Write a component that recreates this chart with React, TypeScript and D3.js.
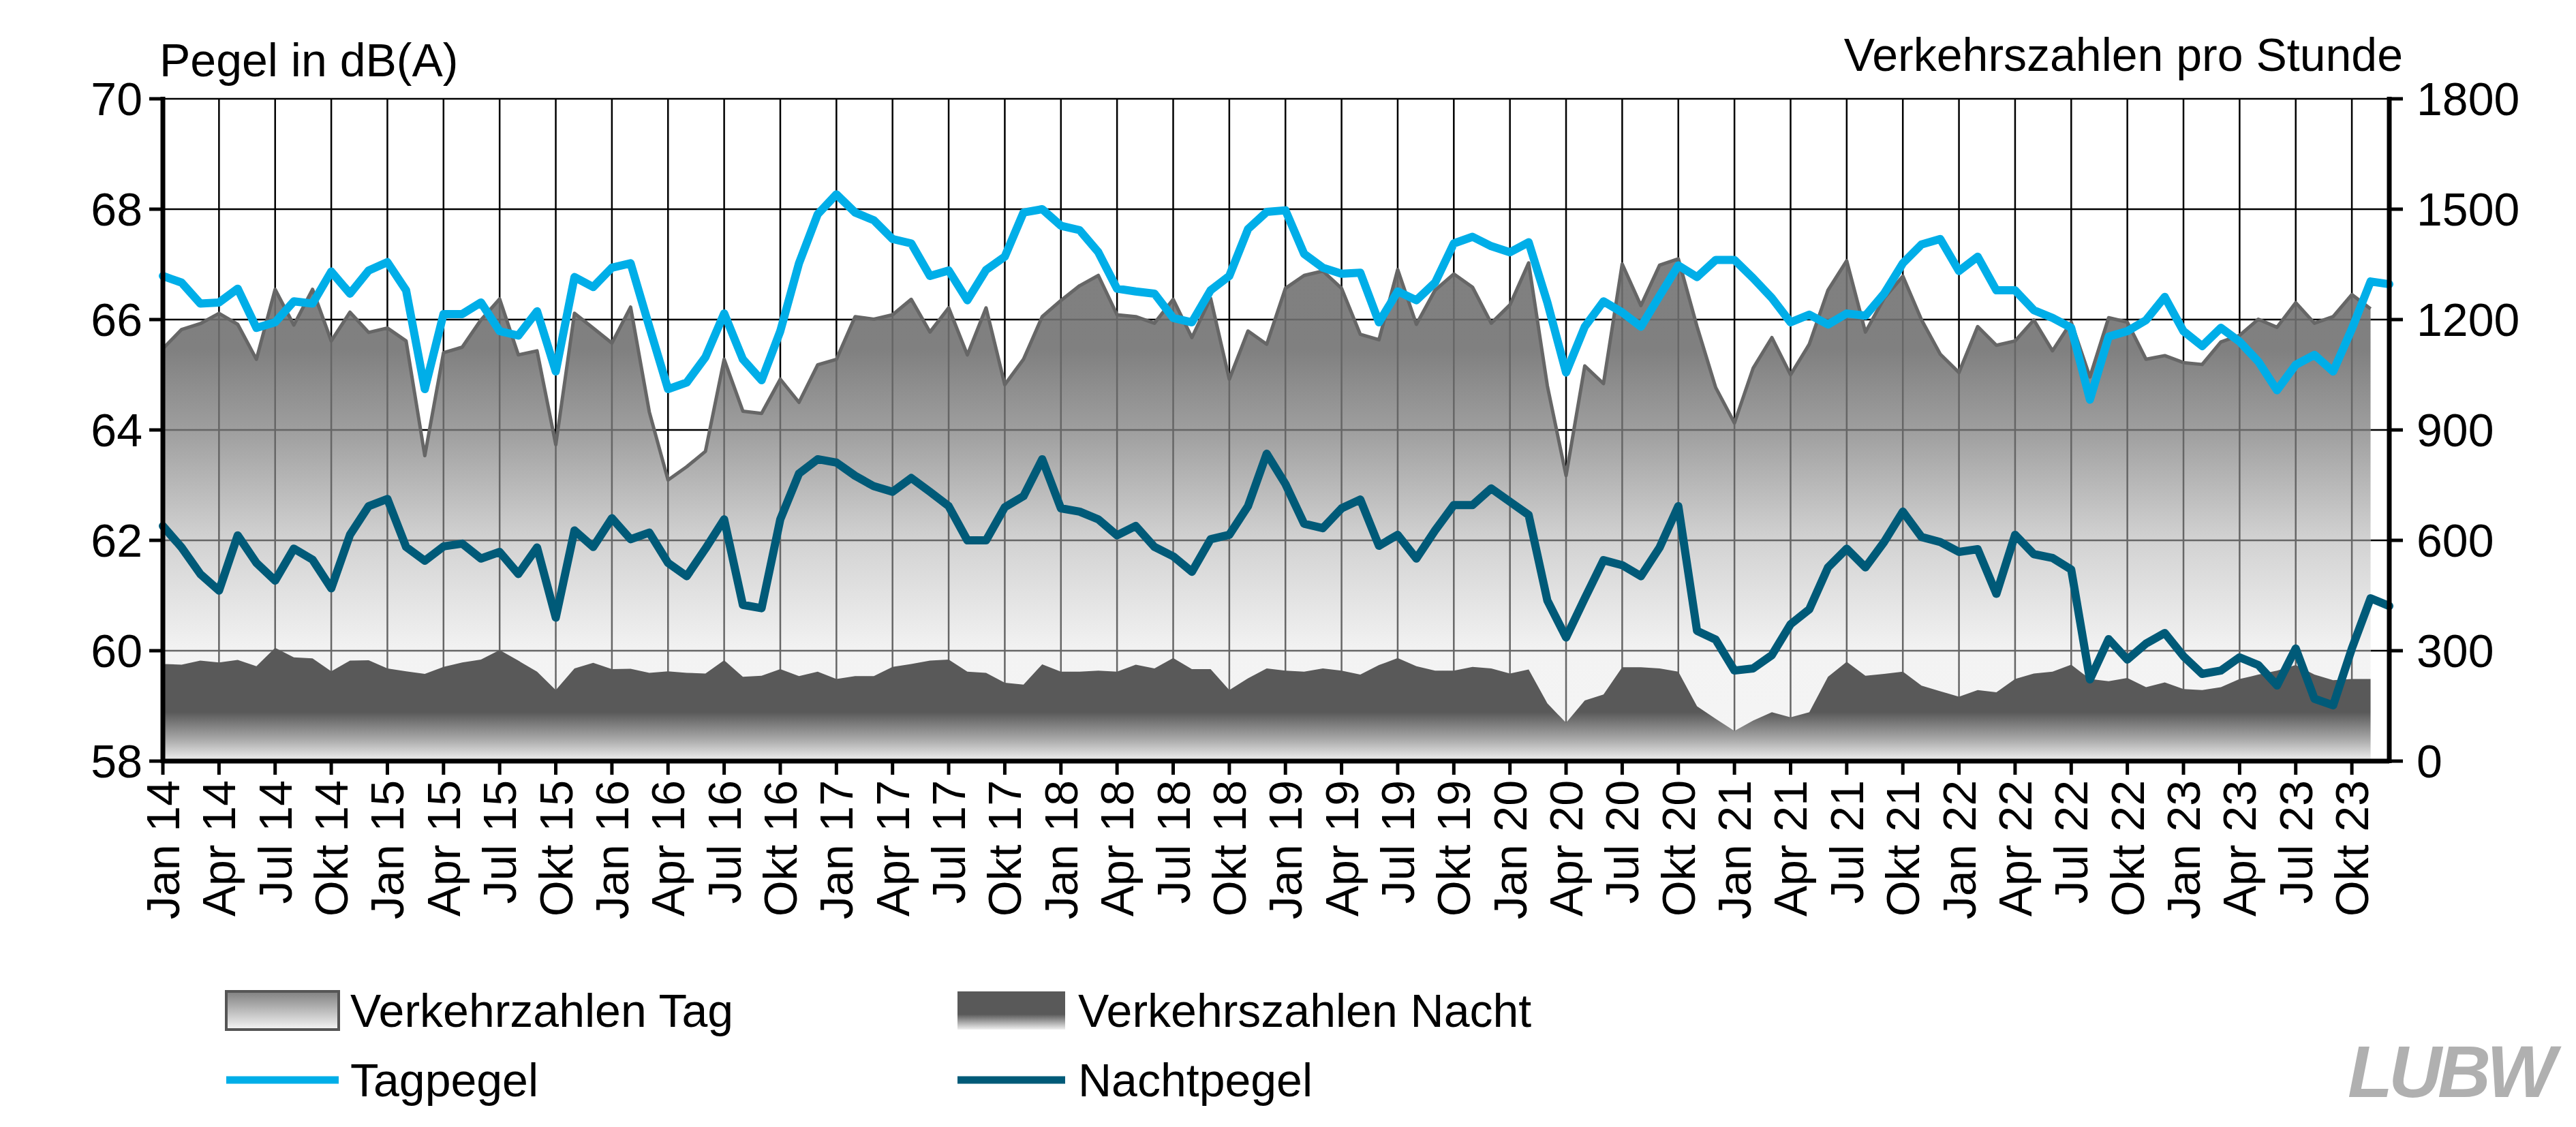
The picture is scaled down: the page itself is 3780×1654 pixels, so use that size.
import { useEffect } from 'react';
import * as d3 from 'd3';

// Monthly values, Jan 2014 onward
const tagPegel = [
  66.79, 66.67, 66.29, 66.31, 66.56, 65.85, 65.95, 66.33, 66.29, 66.87, 66.47, 66.89,
  67.04, 66.53, 64.74, 66.10, 66.10, 66.31, 65.79, 65.71, 66.15, 65.06, 66.77, 66.59,
  66.94, 67.02, 65.87, 64.74, 64.86, 65.32, 66.11, 65.28, 64.90, 65.79, 67.02, 67.91,
  68.27, 67.94, 67.80, 67.46, 67.38, 66.79, 66.89, 66.35, 66.90, 67.14, 67.94, 68.00,
  67.70, 67.62, 67.22, 66.56, 66.51, 66.47, 66.03, 65.95, 66.53, 66.79, 67.64, 67.95,
  67.98, 67.19, 66.94, 66.83, 66.85, 65.95, 66.51, 66.35, 66.67, 67.38, 67.50, 67.33,
  67.22, 67.40, 66.31, 65.04, 65.87, 66.33, 66.13, 65.87, 66.43, 66.98, 66.77, 67.08,
  67.08, 66.75, 66.39, 65.95, 66.09, 65.91, 66.11, 66.07, 66.47, 67.02, 67.36, 67.46,
  66.88, 67.14, 66.53, 66.53, 66.17, 66.03, 65.85, 64.55, 65.69, 65.79, 65.99, 66.41,
  65.79, 65.52, 65.85, 65.60, 65.24, 64.72, 65.18, 65.36, 65.06, 65.83, 66.69, 66.64,
];
const nachtPegel = [
  62.26, 61.87, 61.39, 61.09, 62.09, 61.59, 61.27, 61.85, 61.65, 61.13, 62.10, 62.62,
  62.75, 61.88, 61.63, 61.89, 61.94, 61.67, 61.79, 61.39, 61.87, 60.60, 62.18, 61.88,
  62.40, 62.02, 62.14, 61.59, 61.35, 61.85, 62.38, 60.83, 60.77, 62.38, 63.21, 63.47,
  63.41, 63.17, 62.98, 62.88, 63.13, 62.88, 62.62, 62.00, 62.00, 62.60, 62.80, 63.47,
  62.58, 62.52, 62.38, 62.09, 62.26, 61.88, 61.71, 61.43, 62.02, 62.10, 62.62, 63.57,
  63.02, 62.30, 62.22, 62.58, 62.74, 61.90, 62.10, 61.67, 62.18, 62.64, 62.64, 62.94,
  62.70, 62.46, 60.91, 60.24, 60.95, 61.64, 61.55, 61.35, 61.87, 62.62, 60.36, 60.20,
  59.64, 59.68, 59.92, 60.48, 60.75, 61.51, 61.85, 61.51, 61.97, 62.52, 62.06, 61.97,
  61.79, 61.84, 61.03, 62.10, 61.75, 61.68, 61.47, 59.48, 60.21, 59.84, 60.13, 60.32,
  59.90, 59.58, 59.64, 59.88, 59.74, 59.37, 60.04, 59.13, 59.01, 60.04, 60.95, 60.81,
];
const verkehrTag = [
  1121, 1173, 1189, 1217, 1187, 1092, 1282, 1185, 1282, 1142, 1220, 1165,
  1177, 1142, 830, 1110, 1125, 1199, 1256, 1104, 1115, 860, 1217, 1177,
  1136, 1234, 949, 764, 800, 842, 1092, 951, 945, 1038, 975, 1077,
  1092, 1208, 1201, 1213, 1255, 1166, 1232, 1104, 1232, 1023, 1092, 1208,
  1252, 1292, 1320, 1213, 1208, 1190, 1255, 1151, 1258, 1038, 1169, 1133,
  1285, 1320, 1332, 1285, 1160, 1145, 1336, 1187, 1280, 1324, 1288, 1190,
  1240, 1354, 1020, 776, 1074, 1026, 1351, 1238, 1348, 1365, 1181, 1015,
  919, 1068, 1151, 1050, 1133, 1280, 1360, 1166, 1258, 1318, 1199, 1106,
  1056, 1181, 1130, 1142, 1199, 1115, 1193, 1044, 1205, 1193, 1092, 1102,
  1083, 1078, 1139, 1157, 1201, 1179, 1246, 1190, 1208, 1268, 1229,
];
const verkehrNacht = [
  264, 262, 273, 268, 275, 258, 308, 282, 279, 244, 273, 274,
  252, 244, 237, 256, 268, 276, 302, 273, 243, 193, 252, 267,
  250, 251, 240, 244, 240, 238, 274, 229, 232, 250, 231, 243,
  223, 231, 231, 256, 264, 273, 276, 243, 240, 213, 208, 263,
  243, 243, 246, 243, 262, 252, 280, 250, 250, 193, 225, 252,
  246, 243, 252, 246, 235, 261, 280, 258, 246, 246, 256, 252,
  238, 249, 157, 104, 165, 181, 255, 255, 252, 243, 149, 115,
  82, 110, 133, 119, 133, 229, 270, 232, 237, 243, 205, 190,
  175, 193, 187, 223, 238, 243, 262, 223, 217, 226, 201, 214,
  196, 193, 201, 223, 235, 246, 261, 235, 220, 223, 223,
];
const monthNames = ['Jan', 'Apr', 'Jul', 'Okt'];
const leftTicks = [58, 60, 62, 64, 66, 68, 70];
const rightTicks = [0, 300, 600, 900, 1200, 1500, 1800];

const W = 3780, H = 1654;
const L = 239, R = 3506, T = 145, B = 1117;
const FONT = 'Liberation Sans, Arial, sans-serif';
const FS = 68;

export default function App() {
  useEffect(() => {
    document.body.style.margin = '0';
    const svg = d3.select('#chart');
    svg.selectAll('*').remove();

    const x = d3.scaleLinear().domain([0, 119]).range([L, R]);
    const yL = d3.scaleLinear().domain([58, 70]).range([B, T]);
    const yR = d3.scaleLinear().domain([0, 1800]).range([B, T]);

    const defs = svg.append('defs');
    const g1 = defs.append('linearGradient').attr('id', 'gTag')
      .attr('gradientUnits', 'userSpaceOnUse').attr('x1', 0).attr('x2', 0).attr('y1', T).attr('y2', B);
    [[0, '#7f7f7f'], [(513 - T) / (B - T), '#808080'], [(630 - T) / (B - T), '#9e9e9e'],
     [(792 - T) / (B - T), '#d2d2d2'], [(958 - T) / (B - T), '#f3f3f3'], [1, '#f5f5f5']]
      .forEach(([o, c]) => g1.append('stop').attr('offset', o as number).attr('stop-color', c as string));
    const g2 = defs.append('linearGradient').attr('id', 'gNacht')
      .attr('gradientUnits', 'userSpaceOnUse').attr('x1', 0).attr('x2', 0).attr('y1', T).attr('y2', B);
    [[0, '#595959'], [(1045 - T) / (B - T), '#595959'], [(1085 - T) / (B - T), '#a8a8a8'], [1, '#f2f2f2']]
      .forEach(([o, c]) => g2.append('stop').attr('offset', o as number).attr('stop-color', c as string));
    const g3 = defs.append('linearGradient').attr('id', 'gLegTag').attr('x1', 0).attr('x2', 0).attr('y1', 0).attr('y2', 1);
    g3.append('stop').attr('offset', 0).attr('stop-color', '#808080');
    g3.append('stop').attr('offset', 1).attr('stop-color', '#f5f5f5');
    const g4 = defs.append('linearGradient').attr('id', 'gLegNacht').attr('x1', 0).attr('x2', 0).attr('y1', 0).attr('y2', 1);
    g4.append('stop').attr('offset', 0.6).attr('stop-color', '#595959');
    g4.append('stop').attr('offset', 1).attr('stop-color', '#f0f0f0');

    const tagArea = d3.area<number>().x((_, i) => x(i)).y0(B).y1(d => yR(d));
    defs.append('clipPath').attr('id', 'clipTag').append('path').attr('d', tagArea(verkehrTag)!);

    const monthTicks = d3.range(0, 118, 3);

    const drawGrid = (sel: any, color: string) => {
      leftTicks.forEach(t => sel.append('line').attr('x1', L).attr('x2', R).attr('y1', yL(t)).attr('y2', yL(t))
        .attr('stroke', color).attr('stroke-width', 2.5));
      monthTicks.forEach(m => sel.append('line').attr('x1', x(m)).attr('x2', x(m)).attr('y1', T).attr('y2', B)
        .attr('stroke', color).attr('stroke-width', 2.5));
    };
    drawGrid(svg.append('g'), '#000');

    svg.append('path').attr('d', tagArea(verkehrTag)!).attr('fill', 'url(#gTag)');
    drawGrid(svg.append('g').attr('clip-path', 'url(#clipTag)'), '#666');
    svg.append('path').attr('d', d3.line<number>().x((_, i) => x(i)).y(d => yR(d))(verkehrTag)!)
      .attr('fill', 'none').attr('stroke', '#666').attr('stroke-width', 5).attr('stroke-linejoin', 'round');

    const nachtArea = d3.area<number>().x((_, i) => x(i)).y0(B).y1(d => yR(d));
    svg.append('path').attr('d', nachtArea(verkehrNacht)!).attr('fill', 'url(#gNacht)');

    const line = d3.line<number>().x((_, i) => x(i)).y(d => yL(d));
    svg.append('path').attr('d', line(tagPegel)!).attr('fill', 'none').attr('stroke', '#00aee8')
      .attr('stroke-width', 12).attr('stroke-linejoin', 'round').attr('stroke-linecap', 'round');
    svg.append('path').attr('d', line(nachtPegel)!).attr('fill', 'none').attr('stroke', '#005a78')
      .attr('stroke-width', 12).attr('stroke-linejoin', 'round').attr('stroke-linecap', 'round');

    // axes
    const ax = svg.append('g').attr('font-family', FONT).attr('font-size', FS).attr('fill', '#000');
    ax.append('line').attr('x1', L).attr('x2', L).attr('y1', T - 3).attr('y2', B + 3).attr('stroke', '#000').attr('stroke-width', 7);
    ax.append('line').attr('x1', R).attr('x2', R).attr('y1', T - 3).attr('y2', B + 3).attr('stroke', '#000').attr('stroke-width', 7);
    ax.append('line').attr('x1', L).attr('x2', R).attr('y1', B).attr('y2', B).attr('stroke', '#000').attr('stroke-width', 7);
    leftTicks.forEach(t => {
      ax.append('line').attr('x1', L - 20).attr('x2', L).attr('y1', yL(t)).attr('y2', yL(t)).attr('stroke', '#000').attr('stroke-width', 5);
      ax.append('text').attr('x', L - 30).attr('y', yL(t) + 24).attr('text-anchor', 'end').text(t);
    });
    rightTicks.forEach(t => {
      ax.append('line').attr('x1', R).attr('x2', R + 20).attr('y1', yR(t)).attr('y2', yR(t)).attr('stroke', '#000').attr('stroke-width', 5);
      ax.append('text').attr('x', R + 40).attr('y', yR(t) + 24).text(t);
    });
    monthTicks.forEach(m => {
      ax.append('line').attr('x1', x(m)).attr('x2', x(m)).attr('y1', B).attr('y2', B + 20).attr('stroke', '#000').attr('stroke-width', 5);
      const lab = `${monthNames[(m / 3) % 4]} ${14 + Math.floor(m / 12)}`;
      ax.append('text').attr('transform', `translate(${x(m) + 24},${B + 28}) rotate(-90)`)
        .attr('text-anchor', 'end').text(lab);
    });
    ax.append('text').attr('x', L - 5).attr('y', 112).text('Pegel in dB(A)');
    ax.append('text').attr('x', R + 20).attr('y', 104).attr('text-anchor', 'end').text('Verkehrszahlen pro Stunde');

    // legend
    const lg = svg.append('g').attr('font-family', FONT).attr('font-size', FS);
    lg.append('rect').attr('x', 332).attr('y', 1455).attr('width', 165).attr('height', 56)
      .attr('fill', 'url(#gLegTag)').attr('stroke', '#555').attr('stroke-width', 4);
    lg.append('text').attr('x', 514).attr('y', 1507).text('Verkehrzahlen Tag');
    lg.append('rect').attr('x', 1405).attr('y', 1455).attr('width', 158).attr('height', 56)
      .attr('fill', 'url(#gLegNacht)');
    lg.append('text').attr('x', 1582).attr('y', 1507).text('Verkehrszahlen Nacht');
    lg.append('line').attr('x1', 332).attr('x2', 497).attr('y1', 1585).attr('y2', 1585).attr('stroke', '#00aee8').attr('stroke-width', 11);
    lg.append('text').attr('x', 514).attr('y', 1609).text('Tagpegel');
    lg.append('line').attr('x1', 1405).attr('x2', 1563).attr('y1', 1585).attr('y2', 1585).attr('stroke', '#005a78').attr('stroke-width', 11);
    lg.append('text').attr('x', 1582).attr('y', 1609).text('Nachtpegel');

    svg.append('text').attr('x', 3745).attr('y', 1610).attr('text-anchor', 'end')
      .attr('font-family', FONT).attr('font-size', 108).attr('font-weight', 'bold').attr('font-style', 'italic')
      .attr('fill', '#b0b0b0').attr('letter-spacing', -6).text('LUBW');
  }, []);

  return <svg id="chart" width={W} height={H} style={{ display: 'block', background: '#fff' }} />;
}
